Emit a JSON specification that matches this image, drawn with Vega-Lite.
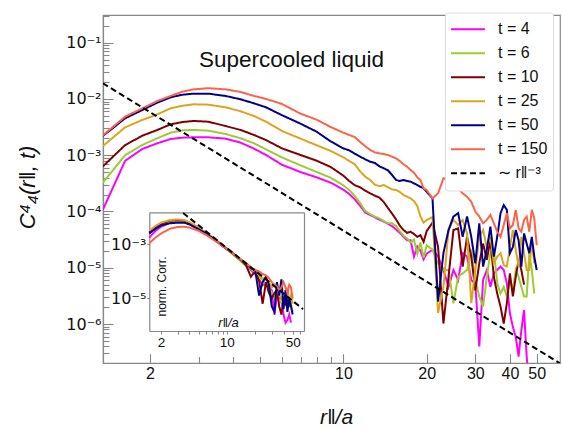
{
"$schema": "https://vega.github.io/schema/vega-lite/v6.json",
"width": 457, "height": 348,
"autosize": {"type": "none"},
"padding": {"left": 103, "top": 15, "right": 2, "bottom": 67},
"config": {
  "view": {"stroke": "#888888", "strokeWidth": 1.2},
  "font": "Liberation Sans",
  "axis": {"domainColor": "#888888", "domainWidth": 1.2, "tickColor": "#888888", "tickWidth": 1.1, "labelColor": "#111111", "titleColor": "#111111", "grid": false, "labelFont": "Liberation Sans", "titleFont": "Liberation Sans", "titleFontWeight": "normal", "labelFlush": false, "labelOverlap": false},
  "legend": {"orient": "none", "legendX": 342, "legendY": -2.5, "padding": 5, "strokeColor": "#dddddd", "cornerRadius": 3, "fillColor": "white", "labelFontSize": 16, "labelFont": "Liberation Sans", "labelColor": "#111111", "symbolStrokeWidth": 2, "symbolSize": 1156, "symbolType": "stroke", "clipHeight": 23.3, "rowPadding": 0, "labelOffset": 12}
},
"title": {"text": "Supercooled liquid", "anchor": "start", "frame": "group", "dx": 96, "dy": 77, "offset": 0, "baseline": "alphabetic", "fontSize": 22.5, "fontWeight": "normal", "color": "#111111", "font": "Liberation Sans"},
"datasets": {
"main": [
{"r":1.35,"c4":1.07e-4,"c6":3.24e-4,"c10":6.31e-4,"c25":1.45e-3,"c50":2.2e-3,"c150":2.25e-3,"fit":0.019},
{"r":1.625,"c4":7.94e-4,"c6":1.0e-3,"c10":1.51e-3,"c25":3.13e-3,"c50":4.52e-3,"c150":4.84e-3},
{"r":1.875,"c4":1.29e-3,"c6":1.52e-3,"c10":2.22e-3,"c25":4.23e-3,"c50":6.35e-3,"c150":6.81e-3},
{"r":2.125,"c4":1.63e-3,"c6":2.0e-3,"c10":2.81e-3,"c25":5.32e-3,"c50":8.59e-3,"c150":9.18e-3},
{"r":2.375,"c4":1.94e-3,"c6":2.51e-3,"c10":3.54e-3,"c25":6.81e-3,"c50":1.07e-2,"c150":1.13e-2},
{"r":2.625,"c4":2.05e-3,"c6":2.77e-3,"c10":3.89e-3,"c25":7.59e-3,"c50":1.19e-2,"c150":1.35e-2},
{"r":2.875,"c4":2.08e-3,"c6":2.81e-3,"c10":4.06e-3,"c25":8.02e-3,"c50":1.24e-2,"c150":1.48e-2},
{"r":3.25,"c4":2.08e-3,"c6":2.73e-3,"c10":3.94e-3,"c25":7.91e-3,"c50":1.24e-2,"c150":1.55e-2},
{"r":3.75,"c4":1.97e-3,"c6":2.38e-3,"c10":3.30e-3,"c25":7.10e-3,"c50":1.13e-2,"c150":1.48e-2},
{"r":4.25,"c4":1.67e-3,"c6":2.0e-3,"c10":2.81e-3,"c25":6.03e-3,"c50":9.84e-3,"c150":1.33e-2},
{"r":4.75,"c4":1.31e-3,"c6":1.63e-3,"c10":2.29e-3,"c25":4.98e-3,"c50":8.36e-3,"c150":1.13e-2},
{"r":5.25,"c4":1.01e-3,"c6":1.27e-3,"c10":1.86e-3,"c25":3.94e-3,"c50":7.10e-3,"c150":1.0e-2},
{"r":6,"c4":6.76e-4,"c6":9.12e-4,"c10":1.32e-3,"c25":2.69e-3,"c50":5.13e-3,"c150":8.13e-3},
{"r":7,"c4":5.01e-4,"c6":6.61e-4,"c10":1.01e-3,"c25":1.97e-3,"c50":3.63e-3,"c150":5.47e-3},
{"r":8,"c4":4.05e-4,"c6":5.02e-4,"c10":8.0e-4,"c25":1.50e-3,"c50":2.62e-3,"c150":4.29e-3},
{"r":9,"c4":3.25e-4,"c6":3.98e-4,"c10":6.17e-4,"c25":1.19e-3,"c50":1.76e-3,"c150":3.17e-3},
{"r":10,"c4":2.44e-4,"c6":2.91e-4,"c10":4.33e-4,"c25":9.16e-4,"c50":1.32e-3,"c150":2.51e-3},
{"r":10.5,"c4":2.04e-4,"c6":2.41e-4,"c10":3.48e-4,"c25":7.89e-4,"c50":1.22e-3,"c150":2.29e-3},
{"r":11,"c4":1.64e-4,"c6":1.88e-4,"c10":2.92e-4,"c25":6.89e-4,"c50":1.06e-3,"c150":2.10e-3},
{"r":11.5,"c4":1.26e-4,"c6":1.41e-4,"c10":2.69e-4,"c25":5.16e-4,"c50":9.42e-4,"c150":1.72e-3},
{"r":12,"c4":9.55e-5,"c6":1.02e-4,"c10":2.34e-4,"c25":4.15e-4,"c50":8.45e-4,"c150":1.44e-3},
{"r":12.5,"c4":8.65e-5,"c6":9.0e-5,"c10":2.10e-4,"c25":3.62e-4,"c50":7.67e-4,"c150":1.24e-3},
{"r":13,"c4":7.87e-5,"c6":8.09e-5,"c10":1.91e-4,"c25":2.99e-4,"c50":7.28e-4,"c150":1.12e-3},
{"r":13.5,"c4":7.14e-5,"c6":7.55e-5,"c10":1.76e-4,"c25":2.83e-4,"c50":6.34e-4,"c150":1.08e-3},
{"r":14,"c4":6.61e-5,"c6":6.76e-5,"c10":1.47e-4,"c25":2.95e-4,"c50":5.85e-4,"c150":1.05e-3},
{"r":14.5,"c4":6.03e-5,"c6":6.17e-5,"c10":1.15e-4,"c25":2.69e-4,"c50":5.38e-4,"c150":1.01e-3},
{"r":15,"c4":5.50e-5,"c6":6.17e-5,"c10":9.14e-5,"c25":2.47e-4,"c50":4.45e-4,"c150":9.42e-4},
{"r":15.5,"c4":4.79e-5,"c6":5.50e-5,"c10":7.24e-5,"c25":2.41e-4,"c50":3.63e-4,"c150":8.79e-4},
{"r":16,"c4":4.17e-5,"c6":4.47e-5,"c10":5.60e-5,"c25":2.22e-4,"c50":3.48e-4,"c150":7.89e-4},
{"r":16.5,"c4":3.55e-5,"c6":3.7e-5,"c10":4.68e-5,"c25":1.96e-4,"c50":3.62e-4,"c150":6.89e-4},
{"r":17,"c4":3.09e-5,"c6":3.31e-5,"c10":4.17e-5,"c25":1.83e-4,"c50":3.48e-4,"c150":6.25e-4},
{"r":17.5,"c4":3.09e-5,"c6":2.8e-5,"c10":4.37e-5,"c25":1.71e-4,"c50":3.39e-4,"c150":5.46e-4},
{"r":18,"c4":1.58e-5,"c6":3.16e-5,"c10":3.98e-5,"c25":1.53e-4,"c50":3.16e-4,"c150":4.90e-4},
{"r":18.5,"c4":2.40e-5,"c6":1.78e-5,"c10":3.55e-5,"c25":1.25e-4,"c50":2.95e-4,"c150":4.05e-4},
{"r":19,"c4":2.0e-5,"c6":2.82e-5,"c10":3.80e-5,"c25":8.13e-5,"c50":2.75e-4,"c150":3.62e-4},
{"r":19.5,"c4":1.41e-5,"c6":1.5e-5,"c10":2.88e-5,"c25":6.31e-5,"c50":2.58e-4,"c150":2.58e-4},
{"r":20,"c4":1.78e-5,"c6":2.51e-5,"c10":4.47e-5,"c25":7.08e-5,"c50":2.25e-4,"c150":2.41e-4},
{"r":21,"c4":2.09e-5,"c6":2.09e-5,"c10":6.31e-5,"c25":7.94e-5,"c50":1.71e-4,"c150":1.71e-4},
{"r":22,"c4":1.58e-5,"c6":1.20e-5,"c10":2.34e-5,"c25":1.58e-6,"c50":2.51e-6,"c150":2.10e-4},
{"r":23,"c4":9.12e-6,"c6":9.12e-6,"c10":1.02e-6,"c25":4.57e-6,"c50":1.82e-5,"c150":3.89e-4},
{"r":24,"c4":4.57e-6,"c6":9.12e-6,"c10":6.92e-6,"c25":4.68e-5,"c50":4.68e-5,"c150":3.63e-4},
{"r":25,"c4":9.12e-6,"c6":2.34e-6,"c10":4.68e-5,"c25":7.08e-5,"c50":8.13e-5,"c150":3.16e-4},
{"r":26,"c4":6.03e-6,"c6":6.92e-6,"c10":5.01e-5,"c25":5.75e-5,"c50":9.33e-5,"c150":2.58e-4},
{"r":27,"c4":1.82e-5,"c6":7.94e-6,"c10":1.05e-5,"c25":7.08e-5,"c50":3.55e-5,"c150":2.10e-4},
{"r":28,"c4":1.58e-5,"c6":9.12e-6,"c10":3.55e-5,"c25":4.07e-5,"c50":8.13e-5,"c150":1.83e-4},
{"r":29,"c4":6.03e-6,"c6":2.09e-5,"c10":1.58e-5,"c25":2.34e-6,"c50":3.55e-5,"c150":1.49e-4},
{"r":30,"c4":5.25e-6,"c6":6.03e-6,"c10":3.98e-6,"c25":9.12e-6,"c50":1.20e-5,"c150":1.0e-4},
{"r":31,"c4":3.98e-7,"c6":3.09e-6,"c10":1.20e-5,"c25":3.55e-5,"c50":6.17e-5,"c150":8.13e-5},
{"r":32,"c4":6.03e-6,"c6":2.04e-6,"c10":2.69e-5,"c25":4.68e-5,"c50":1.05e-5,"c150":6.17e-5},
{"r":33,"c4":9.12e-6,"c6":6.92e-6,"c10":1.38e-5,"c25":2.34e-5,"c50":2.09e-5,"c150":7.08e-5},
{"r":34,"c4":4.57e-6,"c6":1.82e-5,"c10":3.09e-5,"c25":3.55e-5,"c50":5.37e-5,"c150":8.71e-5},
{"r":35,"c4":7.94e-6,"c6":2.09e-5,"c10":6.92e-6,"c25":1.20e-5,"c50":1.58e-5,"c150":6.17e-5},
{"r":36,"c4":9.12e-6,"c6":5.25e-6,"c10":3.47e-6,"c25":1.58e-5,"c50":3.55e-5,"c150":4.37e-5},
{"r":37,"c4":1.05e-5,"c6":3.47e-6,"c10":2.04e-6,"c25":1.82e-5,"c50":9.33e-5,"c150":3.55e-5},
{"r":38,"c4":9.12e-6,"c6":4.57e-6,"c10":1.02e-6,"c25":1.12e-5,"c50":1.30e-4,"c150":5.75e-5},
{"r":39,"c4":5.25e-6,"c6":3.09e-6,"c10":2.34e-6,"c25":1.05e-5,"c50":1.07e-4,"c150":9.33e-5},
{"r":40,"c4":1.55e-6,"c6":6.03e-6,"c10":7.94e-6,"c25":2.34e-5,"c50":1.82e-5,"c150":5.01e-5},
{"r":41,"c4":8.91e-7,"c6":3.98e-6,"c10":3.09e-6,"c25":4.68e-5,"c50":2.34e-5,"c150":5.75e-5},
{"r":42,"c4":5.89e-7,"c6":9.12e-6,"c10":6.92e-6,"c25":2.09e-5,"c50":4.68e-5,"c150":1.07e-4},
{"r":43,"c4":2.63e-7,"c6":6.92e-6,"c10":1.38e-5,"c25":1.05e-5,"c50":3.09e-5,"c150":5.01e-5},
{"r":44,"c4":7.76e-7,"c6":4.57e-6,"c10":9.12e-6,"c25":3.55e-5,"c50":1.05e-5,"c150":4.37e-5},
{"r":45,"c4":1.78e-6,"c6":3.09e-6,"c10":5.01e-6,"c25":1.82e-5,"c50":4.07e-5,"c150":7.08e-5},
{"r":46,"c4":2.63e-7,"c6":3.09e-6,"c25":9.12e-6,"c50":2.69e-5,"c150":8.13e-5},
{"r":47,"c4":7.94e-8,"c6":1.82e-5,"c25":9.12e-6,"c50":1.82e-5,"c150":4.37e-5},
{"r":48,"c6":9.12e-6,"c25":3.09e-5,"c50":3.55e-5,"c150":1.07e-4},
{"r":49,"c6":3.47e-6,"c25":1.20e-5,"c50":1.58e-5,"c150":7.59e-5},
{"r":50,"c50":9.12e-6,"c150":2.51e-5},
{"r":60.7,"fit":2.0e-7}
],
"inset": [
{"r":1.5,"c4":1.78e-3,"c6":2.51e-3,"c10":2.82e-3,"c25":3.16e-3,"c50":2.51e-3,"c150":1.10e-3},
{"r":1.75,"c4":3.16e-3,"c6":3.98e-3,"c10":4.47e-3,"c25":4.79e-3,"c50":3.80e-3,"c150":1.78e-3},
{"r":2,"c4":4.47e-3,"c6":5.37e-3,"c10":5.89e-3,"c25":6.31e-3,"c50":5.01e-3,"c150":2.51e-3},
{"r":2.5,"c4":6.31e-3,"c6":7.08e-3,"c10":7.59e-3,"c25":7.94e-3,"c50":6.03e-3,"c150":3.80e-3},
{"r":3,"c4":7.08e-3,"c6":7.59e-3,"c10":7.94e-3,"c25":8.32e-3,"c50":6.31e-3,"c150":4.37e-3},
{"r":3.43,"fit":0.0145},
{"r":3.5,"c4":6.76e-3,"c6":7.24e-3,"c10":7.59e-3,"c25":7.94e-3,"c50":6.31e-3,"c150":4.47e-3},
{"r":4,"c4":5.62e-3,"c6":6.03e-3,"c10":6.31e-3,"c25":6.61e-3,"c50":5.50e-3,"c150":4.17e-3},
{"r":5,"c4":3.55e-3,"c6":3.80e-3,"c10":3.98e-3,"c25":4.17e-3,"c50":3.63e-3,"c150":3.16e-3},
{"r":6,"c4":2.40e-3,"c6":2.51e-3,"c10":2.63e-3,"c25":2.69e-3,"c50":2.51e-3,"c150":2.24e-3},
{"r":7,"c4":1.66e-3,"c6":1.74e-3,"c10":1.78e-3,"c25":1.82e-3,"c50":1.74e-3,"c150":1.58e-3},
{"r":8,"c4":1.17e-3,"c6":1.20e-3,"c10":1.26e-3,"c25":1.26e-3,"c50":1.20e-3,"c150":1.17e-3},
{"r":10,"c4":6.61e-4,"c6":6.76e-4,"c10":6.92e-4,"c25":6.76e-4,"c50":6.61e-4,"c150":6.61e-4},
{"r":12,"c4":3.98e-4,"c6":3.80e-4,"c10":4.17e-4,"c25":3.98e-4,"c50":4.17e-4,"c150":4.17e-4},
{"r":14,"c4":2.51e-4,"c6":2.40e-4,"c10":2.69e-4,"c25":2.63e-4,"c50":2.75e-4,"c150":2.82e-4},
{"r":16,"c4":1.78e-4,"c6":1.58e-4,"c10":1.66e-4,"c25":1.91e-4,"c50":1.91e-4,"c150":2.0e-4},
{"r":18,"c4":1.12e-4,"c6":1.26e-4,"c10":6.31e-5,"c25":1.41e-4,"c50":1.32e-4,"c150":1.41e-4},
{"r":20,"c4":7.94e-5,"c6":8.91e-5,"c10":1.0e-4,"c25":1.0e-4,"c50":1.12e-4,"c150":1.12e-4},
{"r":22,"c4":5.01e-5,"c6":5.62e-5,"c10":4.47e-5,"c25":7.08e-5,"c50":1.26e-5,"c150":1.0e-4},
{"r":24,"c4":3.16e-5,"c6":5.01e-5,"c10":6.31e-6,"c25":5.62e-5,"c50":3.98e-5,"c150":7.94e-5},
{"r":26,"c4":3.16e-5,"c6":3.16e-5,"c10":3.98e-5,"c25":5.01e-5,"c50":6.31e-5,"c150":7.08e-5},
{"r":28,"c4":2.51e-5,"c6":2.51e-5,"c10":1.58e-5,"c25":3.98e-5,"c50":3.16e-5,"c150":5.62e-5},
{"r":30,"c4":2.0e-5,"c6":1.58e-5,"c10":1.0e-5,"c25":2.51e-5,"c50":5.01e-6,"c150":3.98e-5},
{"r":32,"c4":2.51e-6,"c6":1.0e-5,"c10":1.58e-5,"c25":3.16e-5,"c50":3.16e-6,"c150":3.16e-5},
{"r":34,"c4":1.26e-5,"c6":2.0e-5,"c10":2.0e-5,"c25":2.51e-5,"c50":3.98e-5,"c150":2.82e-5},
{"r":36,"c4":1.0e-5,"c6":6.31e-6,"c10":5.01e-6,"c25":1.26e-5,"c50":1.26e-5,"c150":2.0e-5},
{"r":38,"c4":1.0e-5,"c6":7.94e-6,"c10":2.51e-6,"c25":1.0e-5,"c50":5.01e-5,"c150":2.51e-5},
{"r":40,"c4":2.51e-6,"c6":6.31e-6,"c10":1.0e-5,"c25":1.26e-5,"c50":3.98e-6,"c150":3.98e-5},
{"r":42,"c4":1.26e-6,"c6":1.0e-5,"c10":6.31e-6,"c25":1.58e-5,"c50":2.0e-5,"c150":2.51e-5},
{"r":44,"c4":1.58e-6,"c6":5.01e-6,"c10":1.0e-5,"c25":2.51e-5,"c50":3.16e-6,"c150":1.58e-5},
{"r":46,"c4":2.51e-6,"c6":5.01e-6,"c10":5.01e-6,"c25":7.94e-6,"c50":1.0e-5,"c150":3.16e-5},
{"r":48,"c4":1.26e-6,"c6":6.31e-6,"c25":1.26e-5,"c50":5.01e-6,"c150":2.51e-5},
{"r":50,"c6":3.16e-6,"c25":6.31e-6,"c50":2.51e-6,"c150":1.0e-5},
{"r":64.4,"fit":3.98e-6}
]
},
"layer": [
{
  "data": {"name": "main"},
  "transform": [{"fold": ["c4","c6","c10","c25","c50","c150"], "as": ["key","value"]}, {"filter": "isValid(datum.value)"}],
  "mark": {"type": "line", "clip": true, "strokeWidth": 2},
  "encoding": {
    "x": {"field": "r", "type": "quantitative", "scale": {"type": "log", "domain": [1.352, 60.7], "nice": false},
      "axis": {"orient": "bottom", "values": [2,10,20,30,40,50], "format": "d", "tickSize": -9.3, "labelPadding": 12, "labelFontSize": 16, "title": "r‖/a", "titleFontSize": 21, "titleFontStyle": "italic", "titleX": 233, "titleY": 54, "titleBaseline": "middle", "titleAlign": "center"}},
    "y": {"field": "value", "type": "quantitative", "scale": {"type": "log", "domain": [2.03e-7, 0.31], "nice": false},
      "axis": {"orient": "left", "values": [1e-6,1e-5,1e-4,1e-3,1e-2,1e-1], "labelExpr": "'10' + ['⁰','⁻¹','⁻²','⁻³','⁻⁴','⁻⁵','⁻⁶','⁻⁷'][round(-log(datum.value)/LN10)]", "tickSize": -10, "labelPadding": 12, "labelFont": "DejaVu Sans", "labelFontSize": 16, "labelBaseline": "middle", "title": "C⁴₄(r‖, t)", "titleFontSize": 22, "titleFontStyle": "italic", "titleX": -76, "titleY": 172, "titleAngle": -90, "titleAlign": "center", "titleBaseline": "middle"}},
    "color": {"field": "key", "type": "nominal", "scale": {"domain": ["c4","c6","c10","c25","c50","c150","fit"], "range": ["#ff00ff","#9acd32","#800000","#daa520","#00008b","#ff6347","#000000"]},
      "legend": {"title": null, "labelExpr": "datum.value == 'c4' ? 't = 4' : datum.value == 'c6' ? 't = 6' : datum.value == 'c10' ? 't = 10' : datum.value == 'c25' ? 't = 25' : datum.value == 'c50' ? 't = 50' : datum.value == 'c150' ? 't = 150' : '∼ r‖⁻³'"}},
    "strokeDash": {"field": "key", "type": "nominal", "scale": {"domain": ["c4","c6","c10","c25","c50","c150","fit"], "range": [[1,0],[1,0],[1,0],[1,0],[1,0],[1,0],[6,3.5]]},
      "legend": {"title": null, "labelExpr": "datum.value == 'c4' ? 't = 4' : datum.value == 'c6' ? 't = 6' : datum.value == 'c10' ? 't = 10' : datum.value == 'c25' ? 't = 25' : datum.value == 'c50' ? 't = 50' : datum.value == 'c150' ? 't = 150' : '∼ r‖⁻³'"}}
  }
},
{
  "data": {"name": "main"},
  "transform": [{"fold": ["fit"], "as": ["key","value"]}, {"filter": "isValid(datum.value)"}],
  "mark": {"type": "line", "clip": true, "strokeWidth": 2},
  "encoding": {
    "x": {"field": "r", "type": "quantitative", "scale": {"type": "log", "domain": [1.352, 60.7], "nice": false},
      "axis": {"orient": "bottom", "values": [3,4,5,6,7,8,9], "tickSize": -6.5, "labels": false, "domain": false, "title": null}},
    "y": {"field": "value", "type": "quantitative", "scale": {"type": "log", "domain": [2.03e-7, 0.31], "nice": false},
      "axis": {"orient": "left", "values": [3e-7,4e-7,5e-7,6e-7,7e-7,8e-7,9e-7,2e-6,3e-6,4e-6,5e-6,6e-6,7e-6,8e-6,9e-6,2e-5,3e-5,4e-5,5e-5,6e-5,7e-5,8e-5,9e-5,2e-4,3e-4,4e-4,5e-4,6e-4,7e-4,8e-4,9e-4,0.002,0.003,0.004,0.005,0.006,0.007,0.008,0.009,0.02,0.03,0.04,0.05,0.06,0.07,0.08,0.09,0.2,0.3], "tickSize": -6, "labels": false, "domain": false, "title": null}},
    "color": {"field": "key", "type": "nominal"},
    "strokeDash": {"field": "key", "type": "nominal"}
  }
},
{
  "data": {"name": "inset"},
  "transform": [{"fold": ["c4","c6","c10","c25","c50","c150"], "as": ["key","value"]}, {"filter": "isValid(datum.value)"}],
  "mark": {"type": "line", "clip": true, "strokeWidth": 2},
  "encoding": {
    "x": {"field": "r", "type": "quantitative", "scale": {"type": "log", "domain": [1.5, 66], "range": [46.3, 201], "nice": false},
      "axis": {"orient": "bottom", "offset": -32, "values": [2,3,4,5,6,7,8,9,10,20,30,40,50,60], "labelExpr": "datum.value == 2 || datum.value == 10 || datum.value == 50 ? format(datum.value, 'd') : ''", "tickSize": 3, "labelPadding": 1, "labelFontSize": 13.5, "title": "r‖/a", "titleFontSize": 13, "titleFontStyle": "italic", "titleX": 125, "titleY": -9, "titleBaseline": "middle", "titleAlign": "center"}},
    "y": {"field": "value", "type": "quantitative", "scale": {"type": "log", "domain": [6.17e-7, 0.0153], "range": [316, 197.3], "nice": false},
      "axis": {"orient": "left", "offset": -46.3, "values": [0.001, 0.00001], "labelExpr": "'10' + ['⁰','⁻¹','⁻²','⁻³','⁻⁴','⁻⁵','⁻⁶','⁻⁷'][round(-log(datum.value)/LN10)]", "tickSize": 2.5, "labelPadding": 1, "labelFont": "DejaVu Sans", "labelFontSize": 16, "labelBaseline": "middle", "title": "norm. Corr.", "titleFontSize": 12, "titleX": 11.7, "titleY": 271, "titleAngle": -90, "titleAlign": "center", "titleBaseline": "middle"}},
    "color": {"field": "key", "type": "nominal"},
    "strokeDash": {"field": "key", "type": "nominal"}
  }
},
{
  "data": {"name": "inset"},
  "transform": [{"fold": ["fit"], "as": ["key","value"]}, {"filter": "isValid(datum.value)"}],
  "mark": {"type": "line", "clip": true, "strokeWidth": 2},
  "encoding": {
    "x": {"field": "r", "type": "quantitative", "scale": {"type": "log", "domain": [1.5, 66], "range": [46.3, 201], "nice": false},
      "axis": {"orient": "top", "offset": -197.3, "ticks": false, "labels": false, "title": null}},
    "y": {"field": "value", "type": "quantitative", "scale": {"type": "log", "domain": [6.17e-7, 0.0153], "range": [316, 197.3], "nice": false},
      "axis": {"orient": "right", "offset": -256, "ticks": false, "labels": false, "title": null}},
    "color": {"field": "key", "type": "nominal"},
    "strokeDash": {"field": "key", "type": "nominal"}
  }
}
],
"resolve": {"scale": {"x": "independent", "y": "independent"}}
}
